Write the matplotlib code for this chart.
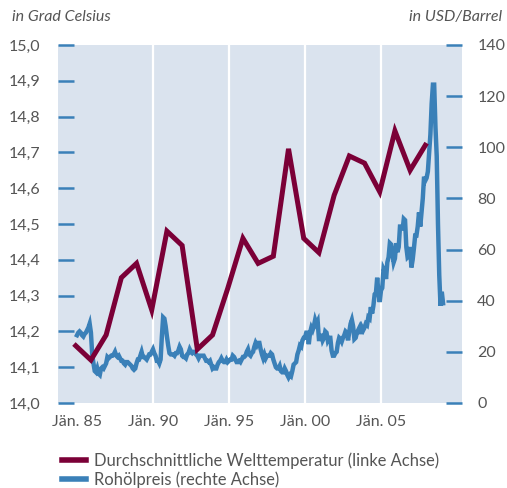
import matplotlib

matplotlib.use("Agg")
import matplotlib.pyplot as plt
from matplotlib.lines import Line2D
from matplotlib.ticker import FixedLocator, FuncFormatter, MultipleLocator

plt.rcParams["font.family"] = ["Lato", "DejaVu Sans"]

# annual global mean temperature, deg C (plotted at year end)
temp_years = list(range(1984, 2008))
temp_values = [14.16, 14.12, 14.19, 14.35, 14.39, 14.26, 14.48, 14.44, 14.15, 14.19,
               14.32, 14.46, 14.39, 14.41, 14.71, 14.46, 14.42, 14.58, 14.69, 14.67,
               14.59, 14.76, 14.65, 14.72]

# monthly crude oil price, USD/barrel, Jan 1985 .. Feb 2009
oil_start_year = 1985
oil_values = [
    26.5, 27.5, 28.0, 27.5, 26.5, 26.0, 27.0, 27.5, 28.5, 29.5, 31.0, 27.5,  # 1985
    19.0, 15.5, 12.5, 12.0, 13.5, 11.5, 11.0, 13.5, 14.0, 13.5, 14.5, 15.5,  # 1986
    18.0, 17.5, 18.0, 18.5, 18.5, 19.0, 20.0, 18.5, 18.0, 18.5, 17.5, 16.5,  # 1987
    16.5, 15.5, 15.0, 16.0, 16.0, 15.5, 15.0, 14.5, 13.5, 13.0, 13.5, 15.5,  # 1988
    17.0, 17.0, 18.5, 20.0, 18.0, 18.0, 17.5, 17.0, 18.0, 19.0, 19.0, 20.0,  # 1989
    21.0, 19.5, 18.5, 16.5, 16.5, 15.5, 17.0, 26.0, 33.5, 33.0, 30.0, 26.0,  # 1990
    22.5, 19.5, 19.0, 19.0, 19.0, 18.5, 19.5, 19.5, 20.5, 22.0, 21.0, 18.5,  # 1991
    18.0, 18.0, 17.5, 19.0, 19.5, 21.0, 20.0, 19.5, 20.0, 20.0, 19.0, 18.5,  # 1992
    17.5, 18.5, 18.5, 18.5, 18.5, 17.5, 16.5, 16.5, 16.0, 16.5, 15.0, 13.5,  # 1993
    14.0, 13.5, 13.5, 15.0, 16.0, 16.5, 17.5, 16.5, 16.0, 16.0, 17.0, 16.0,  # 1994
    16.5, 17.0, 17.0, 18.5, 18.0, 17.0, 16.0, 16.0, 16.5, 16.0, 17.0, 18.0,  # 1995
    18.0, 18.5, 20.0, 21.0, 19.0, 18.5, 19.5, 20.0, 22.0, 23.5, 22.5, 23.5,  # 1996
    23.5, 21.0, 19.0, 17.5, 19.0, 17.5, 18.5, 18.5, 18.5, 19.5, 19.0, 17.0,  # 1997
    15.5, 14.0, 13.5, 13.5, 14.5, 12.5, 12.0, 12.0, 13.5, 12.5, 11.0, 10.0,  # 1998
    11.0, 10.5, 12.5, 15.0, 15.5, 16.0, 19.0, 20.5, 22.5, 22.0, 24.5, 25.5,  # 1999
    25.5, 27.5, 27.5, 23.0, 27.5, 29.5, 28.5, 30.0, 32.5, 31.0, 32.0, 25.0,  # 2000
    25.0, 27.0, 24.5, 25.5, 28.0, 27.5, 24.5, 25.5, 25.5, 20.5, 18.5, 18.5,  # 2001
    19.5, 20.0, 23.5, 25.5, 25.0, 24.0, 25.5, 26.5, 28.0, 27.5, 24.5, 28.0,  # 2002
    31.0, 32.5, 30.0, 25.0, 25.5, 27.5, 28.5, 29.5, 27.0, 29.5, 28.5, 29.5,  # 2003
    31.0, 30.5, 33.5, 33.0, 37.5, 35.0, 38.0, 42.5, 43.0, 49.0, 43.0, 39.5,  # 2004
    44.0, 45.0, 52.5, 51.5, 48.5, 55.0, 57.0, 62.5, 62.0, 58.5, 55.0, 56.5,  # 2005
    62.5, 59.0, 61.0, 69.0, 69.0, 67.5, 72.0, 71.5, 61.0, 57.0, 57.5, 61.0,  # 2006
    53.0, 56.0, 60.5, 65.5, 65.5, 69.0, 74.5, 69.0, 74.5, 80.0, 88.5, 87.0,  # 2007
    88.0, 90.5, 98.0, 105.0, 117.0, 124.5, 124.5, 108.0, 96.5, 70.0, 50.0, 38.0,  # 2008
    43.5, 39.0,  # 2009
]

label_years = [1985, 1990, 1995, 2000, 2005]
grid_years = [1990, 1995, 2000, 2005]
temp_label = "Durchschnittliche Welttemperatur (linke Achse)"
oil_label = "Rohölpreis (rechte Achse)"

temp_color = "#7b0037"
oil_color = "#3a80b8"
bg_color = "#dae3ee"
text_color = "#555555"
x_range = (1983.75, 2010.33)

temp_x = [year + 11 / 12 for year in temp_years]
oil_x = [oil_start_year + month / 12 for month in range(len(oil_values))]

figure = plt.figure(figsize=(5.07, 4.88), dpi=100)
position = [58 / 507, 1 - 403 / 488, 404 / 507, 358 / 488]

# back axes: oil price on the right scale, background and grid
oil_axis = figure.add_axes(position)
oil_axis.set_facecolor(bg_color)
oil_axis.plot(oil_x, oil_values, color=oil_color, linewidth=3.2, solid_joinstyle="miter")
oil_axis.set_xlim(*x_range)
oil_axis.set_ylim(0, 140)
oil_axis.xaxis.set_major_locator(FixedLocator(grid_years))
oil_axis.grid(axis="x", color="white", linewidth=1.6)
oil_axis.set_axisbelow(True)
oil_axis.tick_params(axis="x", length=0, labelbottom=False)
oil_axis.yaxis.tick_right()
oil_axis.yaxis.set_major_locator(MultipleLocator(20))
oil_axis.tick_params(axis="y", direction="in", length=11.5, width=1.8, color=oil_color,
                     labelsize=11.5, labelcolor=text_color, pad=11)
for spine in oil_axis.spines.values():
    spine.set_visible(False)

# front axes: temperature on the left scale
temp_axis = figure.add_axes(position)
temp_axis.patch.set_visible(False)
temp_axis.plot(temp_x, temp_values, color=temp_color, linewidth=3.6, solid_joinstyle="miter")
temp_axis.set_xlim(*x_range)
temp_axis.set_ylim(14.0, 15.0)
temp_axis.xaxis.set_major_locator(FixedLocator(label_years))
temp_axis.xaxis.set_major_formatter(FuncFormatter(lambda v, _: f"Jän. {int(v) % 100:02d}"))
temp_axis.tick_params(axis="x", length=0, labelsize=11.5, labelcolor=text_color, pad=9)
temp_axis.yaxis.set_major_locator(MultipleLocator(0.1))
temp_axis.yaxis.set_major_formatter(FuncFormatter(lambda v, _: f"{v:.1f}".replace(".", ",")))
temp_axis.tick_params(axis="y", direction="in", length=11.5, width=1.8, color=oil_color,
                      labelsize=11.5, labelcolor=text_color, pad=13)
for spine in temp_axis.spines.values():
    spine.set_visible(False)

figure.text(12 / 507, 1 - 17 / 488, "in Grad Celsius", style="italic", fontsize=11.5,
            color=text_color, ha="left", va="center")
figure.text(502 / 507, 1 - 17 / 488, "in USD/Barrel", style="italic", fontsize=11.5,
            color=text_color, ha="right", va="center")

handles = [Line2D([], [], color=temp_color, linewidth=4),
           Line2D([], [], color=oil_color, linewidth=4)]
figure.legend(handles, [temp_label, oil_label], loc="upper left",
              bbox_to_anchor=(54 / 507, 1 - 444 / 488), frameon=False, fontsize=11.9,
              handlelength=1.45, handletextpad=0.5, labelspacing=0.15, borderpad=0,
              labelcolor=text_color)

figure.savefig("out.png", dpi=100)
plt.close(figure)
